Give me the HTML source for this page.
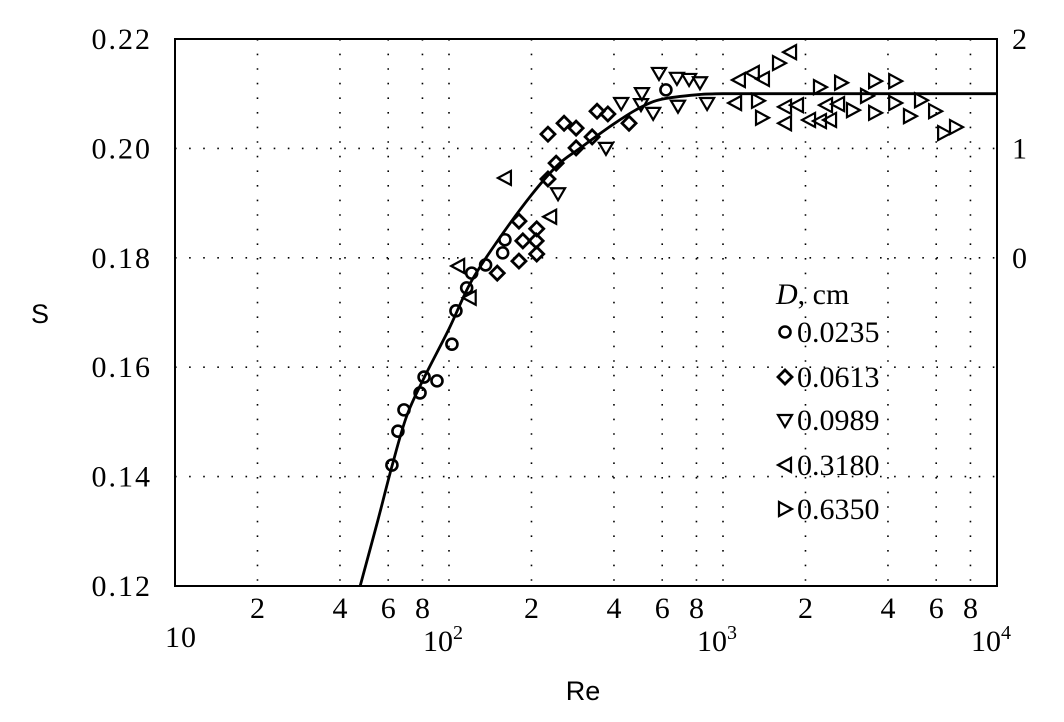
<!DOCTYPE html>
<html><head><meta charset="utf-8"><style>
html,body{margin:0;padding:0;background:#fff;}
svg{display:block;}
</style></head><body>
<svg id="chart" width="1064" height="722" viewBox="0 0 1064 722"></svg>
<script>
const circRe=[61.9,65.1,68.5,78.4,81.1,90.4,102.5,106,116,121,136,157,160,619];
const circS=[0.1421,0.1483,0.1522,0.1553,0.1582,0.1575,0.1642,0.1703,0.1745,0.1772,0.1787,0.1809,0.1833,0.2107];
const diaRe=[229.7,263,291,347,380,246,229.7,291,333,454,180,186,209,208,209,180,150];
const diaS=[0.2026,0.2046,0.2037,0.2068,0.2063,0.1973,0.1944,0.2001,0.2021,0.2046,0.1867,0.1831,0.1853,0.1831,0.1807,0.1794,0.1772];
const dnRe=[250,374,425,506,502,556,584,679,752,824,685,875];
const dnS=[0.1918,0.2001,0.2083,0.2101,0.2081,0.2065,0.2138,0.2129,0.2127,0.2121,0.2078,0.2083];
const lfRe=[160,108,119,234,1143,1285,1399,1757,1107,1684,1862,1684,2061,2259,2459,2377,2630];
const lfS=[0.1946,0.1785,0.1727,0.1875,0.2125,0.2138,0.2127,0.2176,0.2083,0.2076,0.2079,0.2046,0.2052,0.2050,0.2052,0.2079,0.2081];
const rtRe=[1601,1342,1388,2259,2697,3590,4250,2981,3354,3590,4250,4812,5280,5943,6412,7086];
const rtS=[0.2156,0.2087,0.2056,0.2112,0.2120,0.2123,0.2123,0.2070,0.2096,0.2065,0.2083,0.2059,0.2088,0.2068,0.2028,0.2039];
const fitRe=[47.4,55,62,70,81,100,120,150,200,250,300,400,500,600,800,1000,2000,10000];
const fitS=[0.12,0.132,0.142,0.151,0.158,0.167,0.1755,0.183,0.1915,0.197,0.2,0.2045,0.2075,0.209,0.2098,0.21,0.21,0.21];
const yTicks=[0.12,0.14,0.16,0.18,0.20,0.22];
const yLabels=["0.12","0.14","0.16","0.18","0.20","0.22"];
const rTicks=[0.22,0.20,0.18];
const rLabels=["2","1","0"];

const NS="http://www.w3.org/2000/svg";
const svg=document.getElementById('chart');
const X0=175,X1=997,Y0=586,Y1=39;
const SERIF='"Liberation Serif", serif', SANS='"Liberation Sans", sans-serif';
function xs(re){return X0+(Math.log10(re)-1)/3*(X1-X0);}
function ys(s){return Y0-(s-0.12)/0.10*(Y0-Y1);}
function mk(tag,a,p){const e=document.createElementNS(NS,tag);for(const k in a)e.setAttribute(k,a[k]);(p||svg).appendChild(e);return e;}
function txt(a,p){a['font-family']=a['font-family']||SERIF;a['font-size']=a['font-size']||30;a.fill='#000';return mk('text',a,p);}

const grid=mk('g',{});


for(let d=1;d<=3;d++){for(const m of [2,4,6,8]){const x=xs(m*Math.pow(10,d));mk('line',{x1:x,x2:x,y1:Y1,y2:Y0,stroke:'#000','stroke-width':1.6,'stroke-dasharray':'1.6 13'},grid);}
 if(d<3){const x=xs(Math.pow(10,d+1));mk('line',{x1:x,x2:x,y1:Y1,y2:Y0,stroke:'#000','stroke-width':1.6,'stroke-dasharray':'1.6 13'},grid);}}
for(const v of yTicks.slice(1,5)){const y=ys(v);mk('line',{x1:X0,x2:X1,y1:y,y2:y,stroke:'#000','stroke-width':1.6,'stroke-dasharray':'1.6 12.5'},grid);}

yTicks.forEach((v,i)=>{const t=txt({x:152,y:ys(v)+10,'text-anchor':'end','letter-spacing':2});t.textContent=yLabels[i];

});
rTicks.forEach((v,i)=>{const t=txt({x:1012,y:ys(v)+10});t.textContent=rLabels[i];

});
for(let d=1;d<=3;d++)for(const m of [2,4,6,8]){const t=txt({x:xs(m*Math.pow(10,d)),y:618,'text-anchor':'middle'});t.textContent=String(m);

}
const t10=txt({x:X0+6,y:647,'text-anchor':'middle','letter-spacing':1});t10.textContent='10';


for(let d=2;d<=4;d++){const t=txt({x:xs(Math.pow(10,d))-6,y:651,'text-anchor':'middle'});t.innerHTML='10<tspan dy="-12" font-size="20">'+d+'</tspan>';

}
const yl=txt({x:40,y:323,'text-anchor':'middle','font-family':SANS,'font-size':27});yl.textContent='S';


const xl=txt({x:583,y:700,'text-anchor':'middle','font-family':SANS,'font-size':27});xl.textContent='Re';



const pts=fitRe.map((r,i)=>[xs(r),ys(fitS[i])]);
let d='M'+pts[0][0]+','+pts[0][1];
for(let i=0;i<pts.length-1;i++){const p0=pts[Math.max(0,i-1)],p1=pts[i],p2=pts[i+1],p3=pts[Math.min(pts.length-1,i+2)];
d+=' C'+(p1[0]+(p2[0]-p0[0])/6)+','+(p1[1]+(p2[1]-p0[1])/6)+' '+(p2[0]-(p3[0]-p1[0])/6)+','+(p2[1]-(p3[1]-p1[1])/6)+' '+p2[0]+','+p2[1];}
const cv=mk('path',{d:d,fill:'none',stroke:'#000','stroke-width':2.8});



function marker(type,x,y,g){
 if(type==='c')return mk('circle',{cx:x,cy:y,r:5.5,fill:'none',stroke:'#000','stroke-width':2.6},g);
 let p;
 if(type==='d')p=[[x,y-7],[x+7,y],[x,y+7],[x-7,y]];
 if(type==='v')p=[[x-7,y-5],[x+7,y-5],[x,y+7]];
 if(type==='l')p=[[x+6,y-7],[x+6,y+7],[x-7,y]];
 if(type==='r')p=[[x-6,y-7],[x-6,y+7],[x+7,y]];
 return mk('polygon',{points:p.map(q=>q.join(',')).join(' '),fill:'none',stroke:'#000','stroke-width':type==='d'?2.8:2.2},g);
}
const series=[['c',circRe,circS,'series-0.0235'],['d',diaRe,diaS,'series-0.0613'],['v',dnRe,dnS,'series-0.0989'],['l',lfRe,lfS,'series-0.3180'],['r',rtRe,rtS,'series-0.6350']];
series.forEach(s=>{const g=mk('g',{});


s[1].forEach((r,i)=>{const m=marker(s[0],xs(r),ys(s[2][i]),g);

});});

mk('rect',{x:X0,y:Y1,width:X1-X0,height:Y0-Y1,fill:'none',stroke:'#000','stroke-width':2});

const lg=mk('g',{});


const lt=txt({x:776,y:304},lg);lt.innerHTML='<tspan font-style="italic">D</tspan>, cm';
const labs=['0.0235','0.0613','0.0989','0.3180','0.6350'];
const types=['c','d','v','l','r'];
const lys=[332,377,420,465,509];
labs.forEach((l,i)=>{const m=marker(types[i],785,lys[i],lg);


const t=txt({x:797,y:lys[i]+10},lg);t.textContent=l;

});
</script>
</body></html>
